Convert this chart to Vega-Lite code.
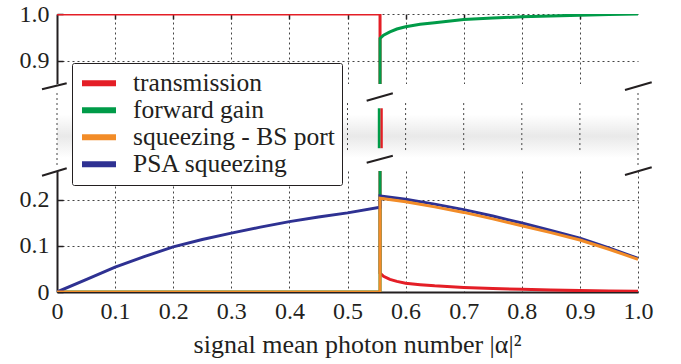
{
  "$schema": "https://vega.github.io/schema/vega-lite/v6.json",
  "padding": {"left": 19, "top": 2, "right": 5, "bottom": 5},
  "bounds": "flush",
  "spacing": 0,
  "config": {
    "font": "Liberation Serif",
    "view": {"stroke": null},
    "axis": {
      "labelFont": "Liberation Serif", "labelFontSize": 24, "labelColor": "#231f20",
      "titleFont": "Liberation Serif", "titleFontSize": 26, "titleColor": "#231f20", "titleFontWeight": "normal",
      "domainColor": "#231f20", "domainWidth": 2,
      "gridColor": "#444444", "gridDash": [2, 3], "gridWidth": 1, "gridOpacity": 1,
      "ticks": false, "tickColor": "#231f20", "tickWidth": 1.5
    },
    "legend": {
      "orient": "none", "legendX": 15, "legendY": 49,
      "symbolType": "stroke", "symbolStrokeWidth": 6, "symbolSize": 1156,
      "labelFont": "Liberation Serif", "labelFontSize": 25.5, "labelColor": "#231f20", "labelLimit": 500,
      "strokeColor": "#231f20", "fillColor": "white", "padding": 7,
      "labelOffset": 14, "clipHeight": 26.7, "rowPadding": 0, "cornerRadius": 2
    }
  },
  "datasets": {
    "curves": [
      {"series": "transmission", "x": 0, "y": 1, "i": 0},
      {"series": "transmission", "x": 0.556, "y": 1, "i": 1},
      {"series": "transmission", "x": 0.556, "y": 0.041, "i": 2},
      {"series": "transmission", "x": 0.562, "y": 0.034, "i": 3},
      {"series": "transmission", "x": 0.573, "y": 0.0275, "i": 4},
      {"series": "transmission", "x": 0.585, "y": 0.023, "i": 5},
      {"series": "transmission", "x": 0.6, "y": 0.019, "i": 6},
      {"series": "transmission", "x": 0.625, "y": 0.016, "i": 7},
      {"series": "transmission", "x": 0.65, "y": 0.0135, "i": 8},
      {"series": "transmission", "x": 0.7, "y": 0.01, "i": 9},
      {"series": "transmission", "x": 0.75, "y": 0.0075, "i": 10},
      {"series": "transmission", "x": 0.8, "y": 0.006, "i": 11},
      {"series": "transmission", "x": 0.85, "y": 0.0045, "i": 12},
      {"series": "transmission", "x": 0.9, "y": 0.003, "i": 13},
      {"series": "transmission", "x": 0.95, "y": 0.002, "i": 14},
      {"series": "transmission", "x": 1.0, "y": 0.0015, "i": 15},
      {"series": "forward gain", "x": 0, "y": 0, "i": 0},
      {"series": "forward gain", "x": 0.556, "y": 0, "i": 1},
      {"series": "forward gain", "x": 0.556, "y": 0.948, "i": 2},
      {"series": "forward gain", "x": 0.562, "y": 0.955, "i": 3},
      {"series": "forward gain", "x": 0.573, "y": 0.962, "i": 4},
      {"series": "forward gain", "x": 0.585, "y": 0.968, "i": 5},
      {"series": "forward gain", "x": 0.6, "y": 0.973, "i": 6},
      {"series": "forward gain", "x": 0.625, "y": 0.978, "i": 7},
      {"series": "forward gain", "x": 0.65, "y": 0.9815, "i": 8},
      {"series": "forward gain", "x": 0.7, "y": 0.9885, "i": 9},
      {"series": "forward gain", "x": 0.75, "y": 0.9915, "i": 10},
      {"series": "forward gain", "x": 0.8, "y": 0.994, "i": 11},
      {"series": "forward gain", "x": 0.85, "y": 0.996, "i": 12},
      {"series": "forward gain", "x": 0.9, "y": 0.9975, "i": 13},
      {"series": "forward gain", "x": 0.95, "y": 0.999, "i": 14},
      {"series": "forward gain", "x": 1.0, "y": 1.0, "i": 15},
      {"series": "PSA squeezing", "x": 0, "y": 0, "i": 0},
      {"series": "PSA squeezing", "x": 0.05, "y": 0.027, "i": 1},
      {"series": "PSA squeezing", "x": 0.1, "y": 0.054, "i": 2},
      {"series": "PSA squeezing", "x": 0.15, "y": 0.077, "i": 3},
      {"series": "PSA squeezing", "x": 0.2, "y": 0.098, "i": 4},
      {"series": "PSA squeezing", "x": 0.25, "y": 0.114, "i": 5},
      {"series": "PSA squeezing", "x": 0.3, "y": 0.128, "i": 6},
      {"series": "PSA squeezing", "x": 0.35, "y": 0.141, "i": 7},
      {"series": "PSA squeezing", "x": 0.4, "y": 0.153, "i": 8},
      {"series": "PSA squeezing", "x": 0.45, "y": 0.163, "i": 9},
      {"series": "PSA squeezing", "x": 0.5, "y": 0.172, "i": 10},
      {"series": "PSA squeezing", "x": 0.556, "y": 0.184, "i": 11},
      {"series": "PSA squeezing", "x": 0.556, "y": 0.209, "i": 12},
      {"series": "PSA squeezing", "x": 0.6, "y": 0.2015, "i": 13},
      {"series": "PSA squeezing", "x": 0.65, "y": 0.191, "i": 14},
      {"series": "PSA squeezing", "x": 0.7, "y": 0.179, "i": 15},
      {"series": "PSA squeezing", "x": 0.75, "y": 0.165, "i": 16},
      {"series": "PSA squeezing", "x": 0.8, "y": 0.15, "i": 17},
      {"series": "PSA squeezing", "x": 0.85, "y": 0.134, "i": 18},
      {"series": "PSA squeezing", "x": 0.9, "y": 0.117, "i": 19},
      {"series": "PSA squeezing", "x": 0.95, "y": 0.096, "i": 20},
      {"series": "PSA squeezing", "x": 1.0, "y": 0.073, "i": 21},
      {"series": "squeezing - BS port", "x": 0, "y": 0, "i": 0},
      {"series": "squeezing - BS port", "x": 0.556, "y": 0, "i": 1},
      {"series": "squeezing - BS port", "x": 0.556, "y": 0.204, "i": 2},
      {"series": "squeezing - BS port", "x": 0.6, "y": 0.196, "i": 3},
      {"series": "squeezing - BS port", "x": 0.65, "y": 0.185, "i": 4},
      {"series": "squeezing - BS port", "x": 0.7, "y": 0.173, "i": 5},
      {"series": "squeezing - BS port", "x": 0.75, "y": 0.159, "i": 6},
      {"series": "squeezing - BS port", "x": 0.8, "y": 0.144, "i": 7},
      {"series": "squeezing - BS port", "x": 0.85, "y": 0.129, "i": 8},
      {"series": "squeezing - BS port", "x": 0.9, "y": 0.113, "i": 9},
      {"series": "squeezing - BS port", "x": 0.95, "y": 0.093, "i": 10},
      {"series": "squeezing - BS port", "x": 1.0, "y": 0.071, "i": 11}
    ]
  },
  "resolve": {"scale": {"color": "shared", "x": "independent", "y": "independent"}},
  "vconcat": [
    {
      "width": 581, "height": 70,
      "encoding": {
        "x": {"field": "x", "type": "quantitative", "scale": {"domain": [0, 1], "nice": false},
          "axis": {"orient": "top", "labels": false, "domain": false, "grid": true, "title": null,
            "ticks": true, "tickSize": -5,
            "values": [0.1, 0.2, 0.3, 0.4, 0.5, 0.6, 0.7, 0.8, 0.9]}},
        "y": {"field": "y", "type": "quantitative", "scale": {"domain": [0.851, 1], "nice": false, "zero": false},
          "axis": {"values": [0.9, 1.0], "labelExpr": "format(datum.value, '.1f')", "grid": true, "title": null,
            "ticks": true, "tickSize": -6, "labelPadding": 14, "labelFont": "Liberation Serif", "labelFontSize": 24}},
        "color": {"field": "series", "type": "nominal", "title": null,
          "scale": {"domain": ["transmission", "forward gain", "squeezing - BS port", "PSA squeezing"],
            "range": ["#e41e26", "#009b48", "#f28c28", "#2e3192"]},
          "legend": {"labelFont": "Liberation Serif", "labelFontSize": 25.5, "labelLimit": 500}},
        "order": {"field": "i", "type": "quantitative"}
      },
      "layer": [
        {
          "data": {"values": [{}]},
          "mark": {"type": "rule", "color": "#8a8a8a", "strokeWidth": 1.5},
          "encoding": {"x": null, "y": {"datum": 1, "type": "quantitative"}, "color": null, "order": null}
        },
        {
          "data": {"values": [{}]},
          "mark": {"type": "rule", "color": "#231f20", "strokeWidth": 2},
          "encoding": {"x": {"datum": 1, "type": "quantitative"}, "y": null, "color": null, "order": null}
        },
        {
          "data": {"values": [{"y": 0.9}]},
          "mark": {"type": "rule", "color": "#231f20", "strokeWidth": 1.5},
          "encoding": {"x": {"datum": 0.986, "type": "quantitative"}, "x2": {"datum": 1}, "y": {"field": "y", "type": "quantitative"}, "color": null, "order": null}
        },
        {
          "data": {"name": "curves"},
          "transform": [{"filter": "datum.series == 'transmission'"}],
          "mark": {"type": "line", "clip": true, "strokeWidth": 3}
        },
        {
          "data": {"name": "curves"},
          "transform": [{"filter": "datum.series == 'forward gain'"}],
          "mark": {"type": "line", "clip": true, "strokeWidth": 3}
        },
        {
          "data": {"name": "curves"},
          "transform": [{"filter": "datum.series == 'PSA squeezing'"}],
          "mark": {"type": "line", "clip": true, "strokeWidth": 3}
        },
        {
          "data": {"name": "curves"},
          "transform": [{"filter": "datum.series == 'squeezing - BS port'"}],
          "mark": {"type": "line", "clip": true, "strokeWidth": 3}
        }
      ]
    },
    {
      "width": 581, "height": 87,
      "layer": [
        {
          "data": {"values": [{}]},
          "mark": {"type": "rect", "color": {"gradient": "linear", "x1": 0, "y1": 0, "x2": 0, "y2": 1,
            "stops": [{"offset": 0, "color": "#ffffff"}, {"offset": 0.35, "color": "#ffffff"},
              {"offset": 0.6, "color": "#e9e9e9"}, {"offset": 0.85, "color": "#ffffff"}, {"offset": 1, "color": "#ffffff"}]}},
          "encoding": {
            "x": {"datum": 0, "type": "quantitative", "scale": {"domain": [0, 1], "nice": false}, "axis": null},
            "x2": {"datum": 1},
            "y": {"datum": 0, "type": "quantitative", "scale": {"domain": [0, 1], "nice": false}, "axis": null},
            "y2": {"datum": 1}
          }
        },
        {
          "data": {"values": [{"x": 0.1}, {"x": 0.2}, {"x": 0.3}, {"x": 0.4}, {"x": 0.5}, {"x": 0.6}, {"x": 0.7}, {"x": 0.8}, {"x": 0.9}]},
          "mark": {"type": "rule", "color": "#444444", "strokeDash": [2, 3], "strokeWidth": 1},
          "encoding": {
            "x": {"field": "x", "type": "quantitative"},
            "y": {"datum": 0.241, "type": "quantitative"},
            "y2": {"datum": 0.782}
          }
        },
        {
          "data": {"values": [{"x": 0}, {"x": 1}]},
          "mark": {"type": "rule", "color": "#444444", "strokeDash": [2, 3], "strokeWidth": 1},
          "encoding": {
            "x": {"field": "x", "type": "quantitative"},
            "y": {"datum": 0.069, "type": "quantitative"},
            "y2": {"datum": 0.908}
          }
        },
        {
          "data": {"values": [{"series": "transmission", "x": 0.556}]},
          "mark": {"type": "rule", "strokeWidth": 2.5, "xOffset": 1.5},
          "encoding": {
            "x": {"field": "x", "type": "quantitative"},
            "y": {"datum": 0.262, "type": "quantitative"},
            "y2": {"datum": 0.721},
            "color": {"field": "series", "type": "nominal", "title": null,
              "scale": {"domain": ["transmission", "forward gain", "squeezing - BS port", "PSA squeezing"],
                "range": ["#e41e26", "#009b48", "#f28c28", "#2e3192"]}}
          }
        },
        {
          "data": {"values": [{"series": "forward gain", "x": 0.556}]},
          "mark": {"type": "rule", "strokeWidth": 2.5, "xOffset": -1},
          "encoding": {
            "x": {"field": "x", "type": "quantitative"},
            "y": {"datum": 0.262, "type": "quantitative"},
            "y2": {"datum": 0.721},
            "color": {"field": "series", "type": "nominal", "title": null,
              "scale": {"domain": ["transmission", "forward gain", "squeezing - BS port", "PSA squeezing"],
                "range": ["#e41e26", "#009b48", "#f28c28", "#2e3192"]}}
          }
        },
        {
          "data": {"values": [
            {"x": -0.0258, "x2": 0.0167, "y": 0.939, "y2": 1.008},
            {"x": -0.0258, "x2": 0.0167, "y": -0.054, "y2": 0.031},
            {"x": 0.9776, "x2": 1.0236, "y": 0.931, "y2": 1.02},
            {"x": 0.9776, "x2": 1.0236, "y": -0.046, "y2": 0.043},
            {"x": 0.533, "x2": 0.578, "y": 0.808, "y2": 0.894},
            {"x": 0.533, "x2": 0.578, "y": 0.095, "y2": 0.176}
          ]},
          "mark": {"type": "rule", "color": "#231f20", "strokeWidth": 2},
          "encoding": {
            "x": {"field": "x", "type": "quantitative"},
            "x2": {"field": "x2"},
            "y": {"field": "y", "type": "quantitative"},
            "y2": {"field": "y2"}
          }
        }
      ]
    },
    {
      "width": 581, "height": 121,
      "encoding": {
        "x": {"field": "x", "type": "quantitative", "scale": {"domain": [0, 1], "nice": false},
          "axis": {"values": [0, 0.1, 0.2, 0.3, 0.4, 0.5, 0.6, 0.7, 0.8, 0.9, 1.0],
            "labelExpr": "datum.value == 0 ? '0' : format(datum.value, '.1f')",
            "grid": true, "labelPadding": 7, "titlePadding": 8, "labelFlush": false,
            "labelFont": "Liberation Serif", "labelFontSize": 24,
            "titleFont": "Liberation Serif", "titleFontSize": 26, "titleX": 300,
            "title": "signal mean photon number |α|²"}},
        "y": {"field": "y", "type": "quantitative", "scale": {"domain": [0, 0.263], "nice": false},
          "axis": {"values": [0, 0.1, 0.2], "labelExpr": "datum.value == 0 ? '0' : format(datum.value, '.1f')",
            "grid": true, "title": null, "ticks": true, "tickSize": -6, "labelPadding": 14,
            "labelFont": "Liberation Serif", "labelFontSize": 24}},
        "color": {"field": "series", "type": "nominal", "title": null,
          "scale": {"domain": ["transmission", "forward gain", "squeezing - BS port", "PSA squeezing"],
            "range": ["#e41e26", "#009b48", "#f28c28", "#2e3192"]}},
        "order": {"field": "i", "type": "quantitative"}
      },
      "layer": [
        {
          "data": {"values": [{}]},
          "mark": {"type": "rule", "color": "#231f20", "strokeWidth": 2},
          "encoding": {"x": {"datum": 1, "type": "quantitative"}, "y": null, "color": null, "order": null}
        },
        {
          "data": {"values": [{"y": 0.1}, {"y": 0.2}]},
          "mark": {"type": "rule", "color": "#231f20", "strokeWidth": 1.5},
          "encoding": {"x": {"datum": 0.986, "type": "quantitative"}, "x2": {"datum": 1}, "y": {"field": "y", "type": "quantitative"}, "color": null, "order": null}
        },
        {
          "data": {"name": "curves"},
          "transform": [{"filter": "datum.series == 'transmission'"}],
          "mark": {"type": "line", "clip": true, "strokeWidth": 3}
        },
        {
          "data": {"name": "curves"},
          "transform": [{"filter": "datum.series == 'forward gain'"}],
          "mark": {"type": "line", "clip": true, "strokeWidth": 3}
        },
        {
          "data": {"name": "curves"},
          "transform": [{"filter": "datum.series == 'PSA squeezing'"}],
          "mark": {"type": "line", "clip": true, "strokeWidth": 3}
        },
        {
          "data": {"name": "curves"},
          "transform": [{"filter": "datum.series == 'squeezing - BS port'"}],
          "mark": {"type": "line", "clip": true, "strokeWidth": 3}
        }
      ]
    }
  ]
}
